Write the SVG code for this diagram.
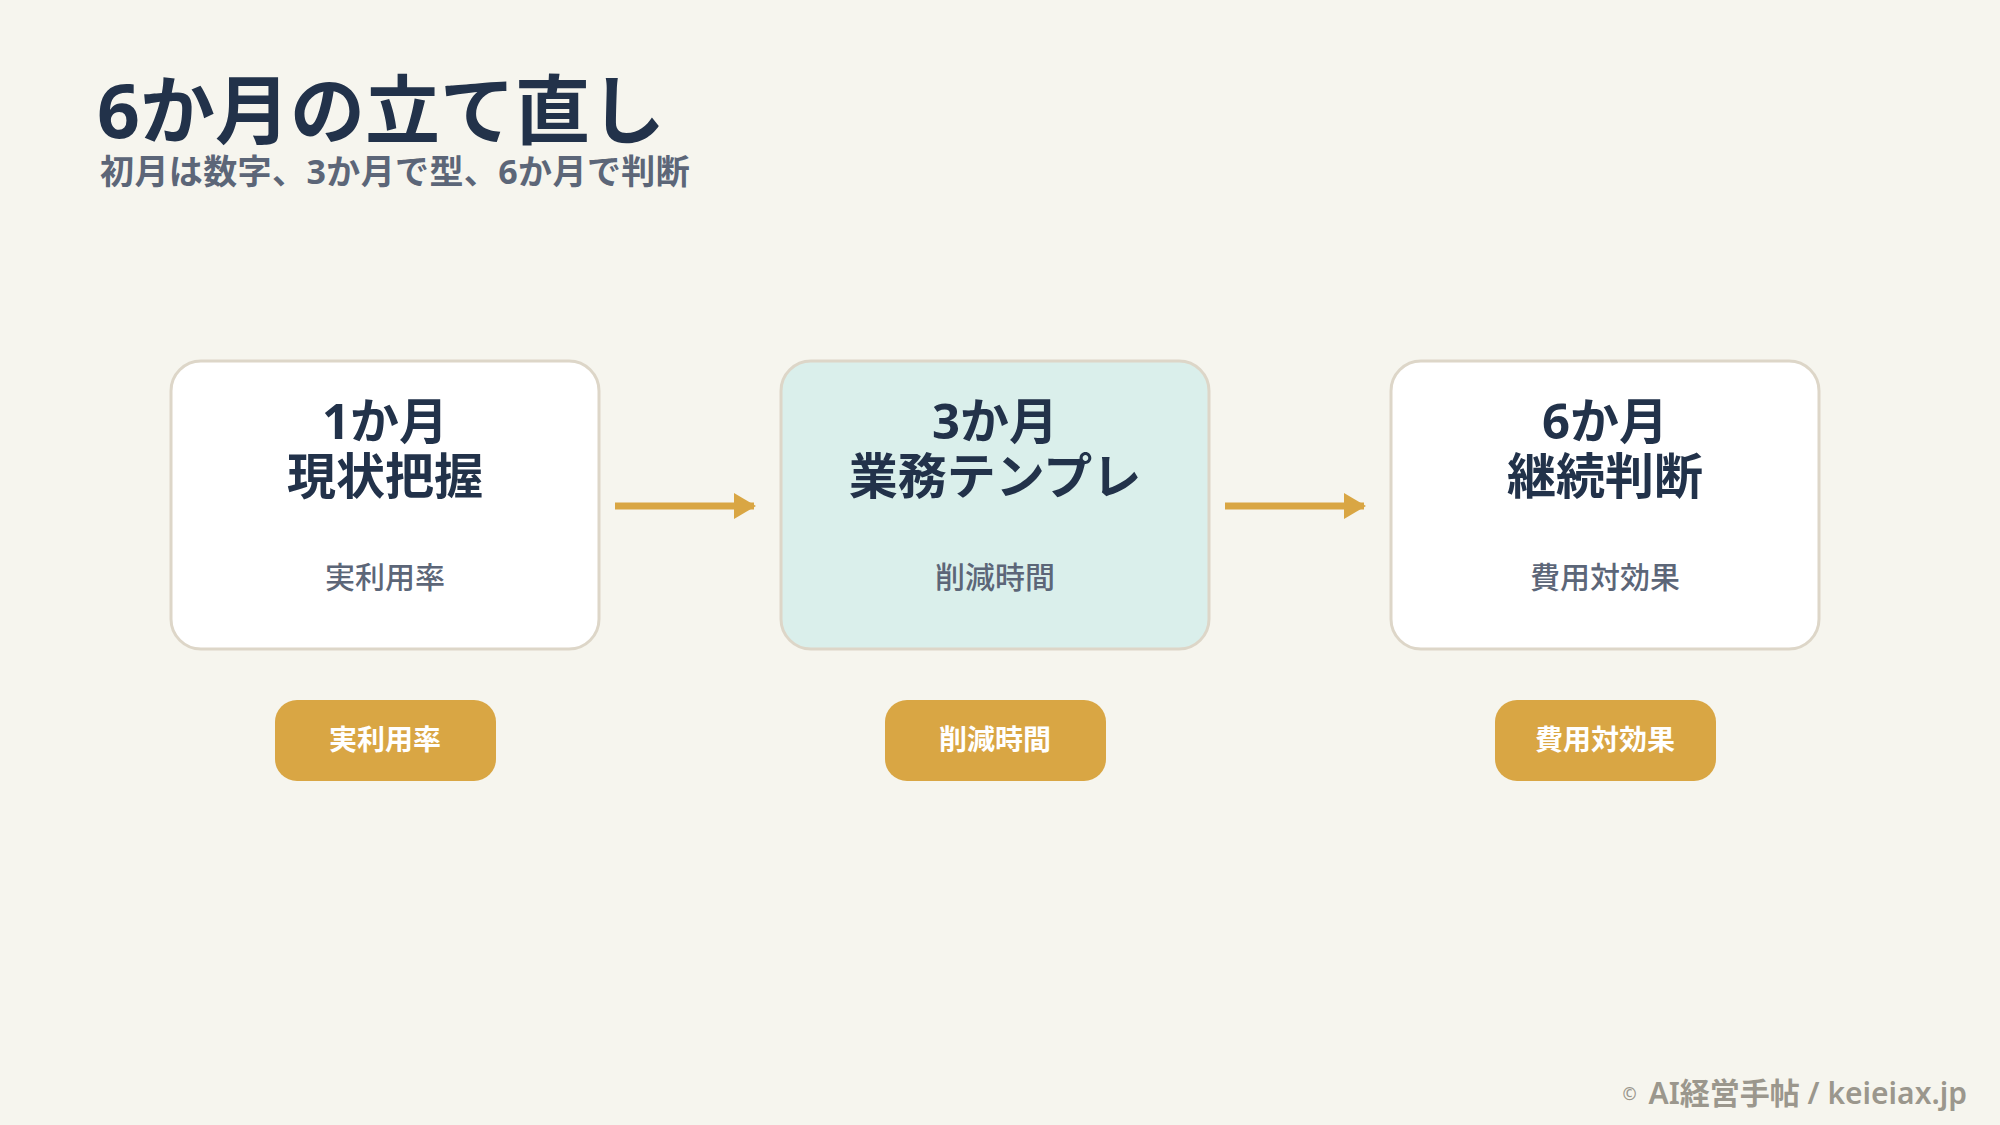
<svg xmlns="http://www.w3.org/2000/svg" width="2000" height="1125" viewBox="0 0 2000 1125">
<style>
text{font-family:"Noto Sans","Noto Sans CJK JP",sans-serif}
.title{font-size:75px;font-weight:700;fill:#22324a;letter-spacing:0px}
.sub{font-size:34px;font-weight:700;fill:#5c6678;letter-spacing:0.4px}
.card{stroke:#ddd6c8;stroke-width:3}
.ct{font-size:49px;font-weight:700;fill:#22324a;text-anchor:middle}
.cs{font-size:30px;font-weight:500;fill:#5c6678;text-anchor:middle}
.pill{fill:#d9a644}
.pt{font-size:28px;font-weight:700;fill:#ffffff;text-anchor:middle}
.conn{stroke:#d9a644;stroke-width:7;fill:none}
.foot{font-size:30px;font-weight:600;fill:#9b978d;text-anchor:end}
</style>
<defs>
<marker id="ah" markerWidth="22" markerHeight="26" refX="20" refY="13" orient="auto" markerUnits="userSpaceOnUse">
<path d="M0,0 L22,13 L0,26 Z" fill="#d9a644"/>
</marker>
</defs>
<rect x="0" y="0" width="2000" height="1125" fill="#f6f5ee"/>
<text class="title" x="97" y="138">6か月の立て直し</text>
<text class="sub" x="100" y="184">初月は数字、3か月で型、6か月で判断</text>
<g id="connectors">
<line class="conn" x1="615" y1="506" x2="754" y2="506" marker-end="url(#ah)"/>
<line class="conn" x1="1225" y1="506" x2="1364" y2="506" marker-end="url(#ah)"/>
</g>
<g id="node1">
<rect class="card" x="171" y="361" width="428" height="288" rx="30" fill="#ffffff"/>
<text class="ct" x="385" y="439">1か月</text>
<text class="ct" x="385" y="494">現状把握</text>
<text class="cs" x="385" y="588">実利用率</text>
</g>
<g id="node2">
<rect class="card" x="781" y="361" width="428" height="288" rx="30" fill="#daefeb"/>
<text class="ct" x="995" y="439">3か月</text>
<text class="ct" x="995" y="494">業務テンプレ</text>
<text class="cs" x="995" y="588">削減時間</text>
</g>
<g id="node3">
<rect class="card" x="1391" y="361" width="428" height="288" rx="30" fill="#ffffff"/>
<text class="ct" x="1605" y="439">6か月</text>
<text class="ct" x="1605" y="494">継続判断</text>
<text class="cs" x="1605" y="588">費用対効果</text>
</g>
<g id="pill1">
<rect class="pill" x="275" y="700" width="221" height="81" rx="22"/>
<text class="pt" x="385" y="750">実利用率</text>
</g>
<g id="pill2">
<rect class="pill" x="885" y="700" width="221" height="81" rx="22"/>
<text class="pt" x="995" y="750">削減時間</text>
</g>
<g id="pill3">
<rect class="pill" x="1495" y="700" width="221" height="81" rx="22"/>
<text class="pt" x="1605" y="750">費用対効果</text>
</g>
<text class="foot" x="1967" y="1104"><tspan font-size="17" dy="-4">©</tspan><tspan dy="4" dx="4"> AI経営手帖 / keieiax.jp</tspan></text>
</svg>
